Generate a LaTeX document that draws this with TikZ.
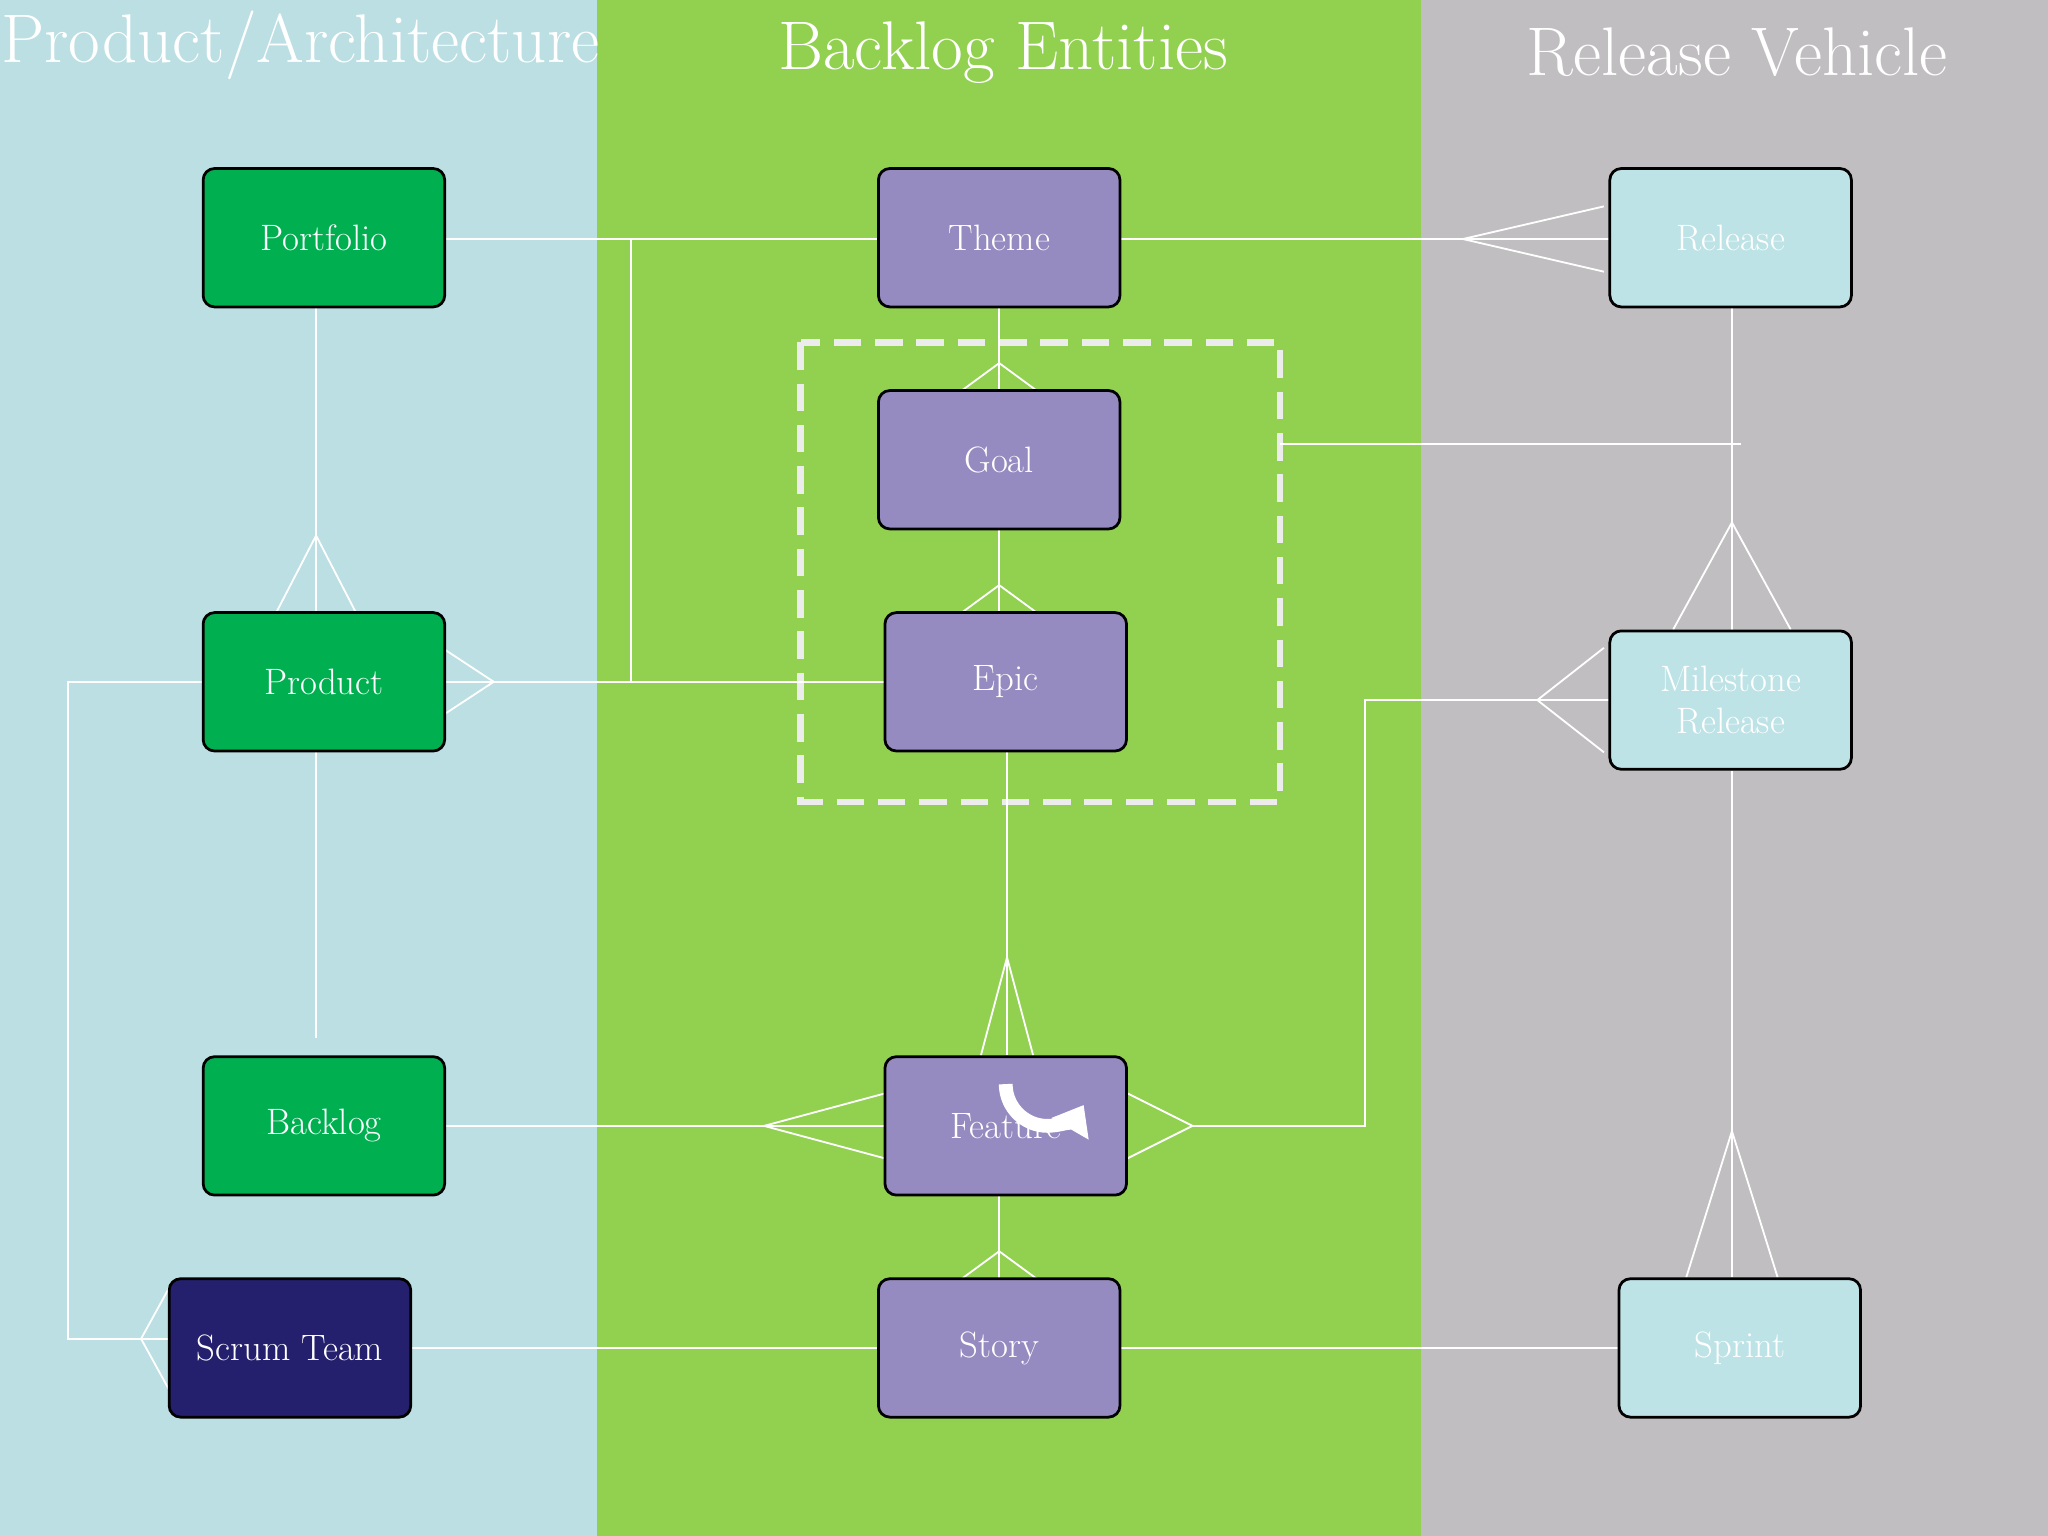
\documentclass[tikz,border=0pt]{standalone}
\usetikzlibrary{arrows.meta}
\definecolor{colA}{HTML}{BCDFE3}
\definecolor{colB}{HTML}{92D050}
\definecolor{colC}{HTML}{C0BEC0}
\definecolor{grn}{HTML}{00B050}
\definecolor{pur}{HTML}{968BC0}
\definecolor{cyn}{HTML}{BEE3E6}
\definecolor{navy}{HTML}{24206E}
\begin{document}
\begin{tikzpicture}[x=0.02cm,y=-0.02cm,
  box/.style={draw=black,line width=1.2pt,rounded corners=5pt,minimum width=3.7cm,minimum height=2.12cm,
    text=white,font=\fontsize{16}{18}\selectfont,align=center},
  g/.style={box,fill=grn}, p/.style={box,fill=pur}, c/.style={box,fill=cyn},
  ln/.style={draw=white,line width=0.8pt},
  title/.style={text=white,font=\fontsize{30}{34}\selectfont}]
\fill[colA] (0,0) rectangle (457,1176);
\fill[colB] (457,0) rectangle (1088,1176);
\fill[colC] (1088,0) rectangle (1568,1176);
\useasboundingbox (0,0) rectangle (1568,1176);
\node[title] (t1) at (230,35) {Product/Architecture};
\node[title] (t2) at (768,40) {Backlog Entities};
\node[title] (t3) at (1330,40) {Release Vehicle};

\draw[draw=white!85!gray,line width=3pt,dash pattern=on 12pt off 6pt] (613,262) rectangle (980,614);
\coordinate (dr) at (980,340);

% connectors first
\draw[ln] (340,183) -- (672,183);
\draw[ln] (483,183) -- (483,522);
\draw[ln] (340,522) -- (678,522);
\draw[ln] (340,497) -- (378,522) -- (340,547);
\draw[ln] (858,183) -- (1232,183);
\draw[ln] (1228,158) -- (1120,183) -- (1228,208);
\draw[ln] (242,236) -- (242,468);
\draw[ln] (212,468) -- (242,410) -- (272,468);
\draw[ln] (242,576) -- (242,795);
\draw[ln] (155,522) -- (52,522) -- (52,1025) -- (130,1025);
\draw[ln] (130,985) -- (108,1025) -- (130,1065);
\draw[ln] (765,236) -- (765,300);
\draw[ln] (735,300) -- (765,278) -- (795,300);
\draw[ln] (765,405) -- (765,470);
\draw[ln] (735,470) -- (765,448) -- (795,470);
\draw[ln] (771,576) -- (771,808);
\draw[ln] (751,808) -- (771,733) -- (791,808);
\draw[ln] (340,862) -- (678,862);
\draw[ln] (678,837) -- (585,862) -- (678,887);
\draw[ln] (863,837) -- (913,862) -- (863,887);
\draw[ln] (913,862) -- (1045,862) -- (1045,536) -- (1232,536);
\draw[ln] (1228,496) -- (1177,536) -- (1228,576);
\draw[ln] (765,915) -- (765,980);
\draw[ln] (735,980) -- (765,958) -- (795,980);
\draw[ln] (315,1032) -- (672,1032);
\draw[ln] (858,1032) -- (1240,1032);
\draw[ln] (1326,236) -- (1326,482);
\draw[ln] (1281,482) -- (1326,400) -- (1371,482);
\draw[ln] (1326,590) -- (1326,978);
\draw[ln] (1291,978) -- (1326,866) -- (1361,978);
\draw[ln] (dr) -- (1333,340);

\node[g] (portfolio) at (248,182) {Portfolio};
\node[g] (product) at (248,522) {Product};
\node[g] (backlog) at (248,862) {Backlog};
\node[box,fill=navy] (scrum) at (222,1032) {Scrum Team};
\node[p] (theme) at (765,182) {Theme};
\node[p] (goal) at (765,352) {Goal};
\node[p] (epic) at (770,522) {Epic};
\node[p] (feature) at (770,862) {Feature};
\node[p] (story) at (765,1032) {Story};
\node[c] (release) at (1325,182) {Release};
\node[c] (milestone) at (1325,536) {Milestone\\Release};
\node[c] (sprint) at (1332,1032) {Sprint};

\draw[white,line width=6pt,-{Triangle[length=12pt,width=18pt]}] (770,830) arc[start angle=180,end angle=30,radius=32];
\end{tikzpicture}
\end{document}
